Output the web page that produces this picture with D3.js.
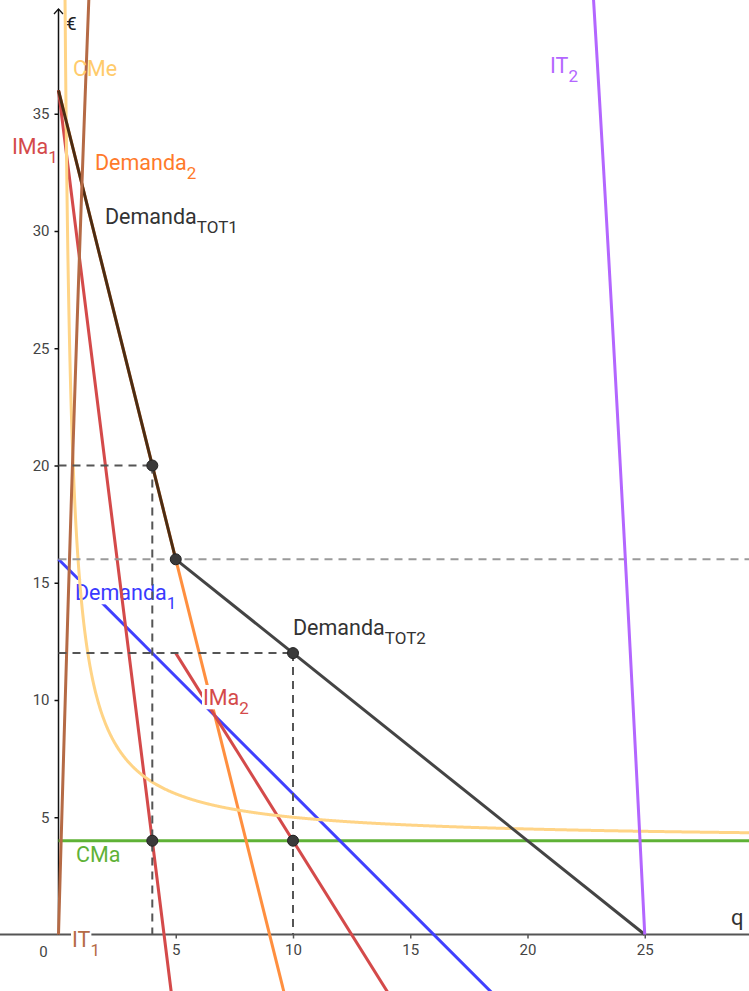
<!DOCTYPE html>
<html>
<head>
<meta charset="utf-8">
<script src="https://cdn.jsdelivr.net/npm/d3@7"></script>
<style>
  html, body { margin: 0; padding: 0; background: #fff; }
  svg { display: block; font-family: Roboto, "Noto Sans", sans-serif; }
</style>
</head>
<body>
<svg id="chart" width="749" height="991"></svg>
<script>
// Straight lines: price = intercept + slope * q, drawn for q in [from, to]
const lineNames      = ["CMa", "Demanda1", "IMa1", "IMa2", "Demanda2", "DemandaTOT1", "DemandaTOT2"];
const lineIntercepts = [4, 16, 36, 20, 36, 36, 20];
const lineSlopes     = [0, -1, -8, -1.6, -4, -4, -0.8];
const lineFrom       = [0, 0, 0, 5, 0, 0, 5];
const lineTo         = [30, 19, 5, 15, 10, 5, 25];
const lineColors     = ["#5fb236", "#4040ff", "#d44a4a", "#d44a4a", "#ff8f3f", "#4a2c14", "#444444"];

// Average cost: CMe = fixed / q + variable
const cmeFixed = 10, cmeVariable = 4;
const cmeFrom = 0.2, cmeTo = 30;

// Revenue curves: IT = a * q + b * q^2
const itNames  = ["IT1", "IT2"];
const itA      = [36, 20];
const itB      = [-4, -0.8];
const itFrom   = [0, 22];
const itTo     = [1.5, 25];
const itColors = ["#b56a45", "#b366ff"];

// Marked equilibrium points
const pointQ = [4, 5, 10, 4, 10];
const pointP = [20, 16, 12, 4, 4];

// Dashed guides: [q1, p1, q2, p2]
const guides = [
  [0, 20, 4, 20], [4, 20, 4, 0],
  [0, 12, 10, 12], [10, 12, 10, 0]
];
const guideLight = [[0, 16, 30, 16]];

const xTicks = [5, 10, 15, 20, 25];
const yTicks = [5, 10, 15, 20, 25, 30, 35];

// Curve labels (main text + subscript); some sit on a white box
const labels = {
  CMe:         { main: "CMe", sub: "", x: 73, y: 76, color: "#ffcb6b", box: false },
  IMa1:        { main: "IMa", sub: "1", x: 12, y: 154, color: "#d44a4a", box: false },
  Demanda2:    { main: "Demanda", sub: "2", x: 95, y: 170, color: "#ff7a2a", box: false },
  DemandaTOT1: { main: "Demanda", sub: "TOT1", x: 105, y: 224, color: "#333", box: false },
  Demanda1:    { main: "Demanda", sub: "1", x: 75, y: 600, color: "#3a3aff", box: true },
  DemandaTOT2: { main: "Demanda", sub: "TOT2", x: 293, y: 635, color: "#333", box: false },
  IMa2:        { main: "IMa", sub: "2", x: 203, y: 705, color: "#d44a4a", box: true },
  CMa:         { main: "CMa", sub: "", x: 76, y: 862, color: "#5fb236", box: false },
  IT1:         { main: "IT", sub: "1", x: 72, y: 947, color: "#b56a45", box: true },
  IT2:         { main: "IT", sub: "2", x: 550, y: 73, color: "#b366ff", box: false }
};

const W = 749, H = 991;
const unit = 23.45;
const x0 = 58.5, y0 = 934.5;
const x = d3.scaleLinear().domain([-x0 / unit, (W - x0) / unit]).range([0, W]);
const y = d3.scaleLinear().domain([(y0 - H) / unit, y0 / unit]).range([H, 0]);

const svg = d3.select("#chart");
const line = d3.line().x(d => x(d[0])).y(d => y(d[1]));

function drawLine(name) {
  const i = lineNames.indexOf(name);
  const pts = [lineFrom[i], lineTo[i]].map(q => [q, lineIntercepts[i] + lineSlopes[i] * q]);
  svg.append("path").datum(pts).attr("d", line)
    .attr("fill", "none").attr("stroke", lineColors[i]).attr("stroke-width", 3);
}

function drawLabel(name) {
  const l = labels[name];
  const g = svg.append("g");
  const fs = 21.5, fsSub = 17;
  const bg = g.append("g");
  const main = g.append("text").attr("x", l.x).attr("y", l.y)
    .attr("fill", l.color).attr("font-size", fs).text(l.main);
  const wMain = main.node().getComputedTextLength();
  if (l.box) {
    bg.append("rect").attr("x", l.x - 1).attr("y", l.y - 0.93 * fs)
      .attr("width", wMain + 2).attr("height", 1.13 * fs).attr("fill", "#fff");
  }
  if (l.sub) {
    const sx = l.x + wMain, sy = l.y + 9;
    const sub = g.append("text").attr("x", sx).attr("y", sy)
      .attr("fill", l.color).attr("font-size", fsSub).text(l.sub);
    const wSub = sub.node().getComputedTextLength();
    if (l.box) {
      bg.append("rect").attr("x", sx).attr("y", sy - 0.93 * fsSub)
        .attr("width", wSub + 1).attr("height", 1.13 * fsSub).attr("fill", "#fff");
    }
  }
}

// Axes
const xAxis = d3.axisBottom(x).tickValues(xTicks).tickSize(4).tickPadding(6).tickFormat(d3.format("d"));
const xg = svg.append("g").attr("transform", `translate(0,${y0})`).call(xAxis);
xg.select(".domain").attr("d", `M0,0H${W}`).attr("stroke", "#555").attr("stroke-width", 2);
xg.selectAll(".tick line").attr("stroke", "#555").attr("stroke-width", 1.5);
xg.selectAll(".tick text").attr("fill", "#444").attr("font-size", 15).attr("font-family", "Roboto");

const yAxis = d3.axisLeft(y).tickValues(yTicks).tickSize(4).tickPadding(5).tickFormat(d3.format("d"));
const yg = svg.append("g").attr("transform", `translate(${x0},0)`).call(yAxis);
yg.select(".domain").attr("d", `M0,${y0}V9`).attr("stroke", "#111").attr("stroke-width", 1.5);
yg.selectAll(".tick line").attr("stroke", "#111").attr("stroke-width", 1.5);
yg.selectAll(".tick text").attr("fill", "#444").attr("font-size", 15).attr("font-family", "Roboto");
svg.append("path").attr("d", `M${x0 - 4.5},${14}L${x0},${9}L${x0 + 4.5},${14}`)
  .attr("fill", "none").attr("stroke", "#111").attr("stroke-width", 1.3);
svg.append("text").attr("x", x(0) - 15).attr("y", y0 + 22).attr("text-anchor", "middle")
  .attr("fill", "#444").attr("font-size", 15).text("0");
svg.append("text").attr("x", 66).attr("y", 30).attr("fill", "#222").attr("font-size", 19).text("€");
svg.append("text").attr("x", 731).attr("y", 925).attr("fill", "#333").attr("font-size", 22).text("q");

drawLabel("IT1");
drawLine("CMa");
drawLine("Demanda1");
drawLabel("Demanda1");
drawLine("Demanda2");
drawLine("IMa2");
drawLabel("IMa2");
drawLine("IMa1");

// Average cost curve
const cmePts = d3.range(cmeFrom, cmeTo, 0.02).map(q => [q, cmeFixed / q + cmeVariable]);
svg.append("path").datum(cmePts).attr("d", line)
  .attr("fill", "none").attr("stroke", "#ffd486").attr("stroke-width", 3);

// Light dashed guide at the kink price
svg.selectAll(".guide-light").data(guideLight).join("line").attr("class", "guide-light")
  .attr("x1", d => x(d[0])).attr("y1", d => y(d[1]))
  .attr("x2", d => x(Math.min(d[2], x.domain()[1]))).attr("y2", d => y(d[3]))
  .attr("stroke", "#9a9a9a").attr("stroke-width", 2).attr("stroke-dasharray", "8,6");

drawLine("DemandaTOT1");
drawLine("DemandaTOT2");

// Revenue curves
itNames.forEach((name, i) => {
  const pts = d3.range(itFrom[i], itTo[i] + 1e-9, 0.01).map(q => [q, itA[i] * q + itB[i] * q * q]);
  svg.append("path").datum(pts).attr("d", line)
    .attr("fill", "none").attr("stroke", itColors[i]).attr("stroke-width", 3);
});

// Dashed guides from the equilibrium points to the axes
svg.selectAll(".guide").data(guides).join("line").attr("class", "guide")
  .attr("x1", d => x(d[0])).attr("y1", d => y(d[1]))
  .attr("x2", d => x(d[2])).attr("y2", d => y(d[3]))
  .attr("stroke", "#555").attr("stroke-width", 2).attr("stroke-dasharray", "8,6");

// Points
svg.selectAll(".pt").data(pointQ).join("circle").attr("class", "pt")
  .attr("cx", d => x(d)).attr("cy", (d, i) => y(pointP[i])).attr("r", 5.5)
  .attr("fill", "#3a3a3a").attr("stroke", "#222").attr("stroke-width", 1);

["CMe", "IMa1", "Demanda2", "DemandaTOT1", "DemandaTOT2", "CMa", "IT2"].forEach(drawLabel);
</script>
</body>
</html>
